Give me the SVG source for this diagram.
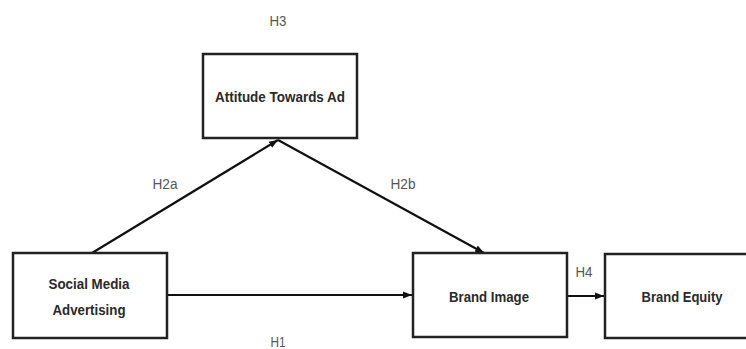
<svg xmlns="http://www.w3.org/2000/svg" width="746" height="349" viewBox="0 0 746 349">
<style>
.box{fill:#fff;stroke:#222;stroke-width:2.5}
.nt{font-family:"Liberation Sans",Arial,sans-serif;font-weight:bold;font-size:15px;fill:#2a2a2a;text-anchor:middle}
.lb{font-family:"Liberation Sans",Arial,sans-serif;font-size:14px;fill:#555;text-anchor:middle}
.ln{stroke:#111;stroke-width:2.2;fill:none;marker-end:url(#ah)}
</style>
<defs>
<marker id="ah" markerUnits="userSpaceOnUse" markerWidth="10" markerHeight="8" refX="9" refY="4" orient="auto">
<path d="M0,0.5 L9,4 L0,7.5 Z" fill="#111"/>
</marker>
</defs>
<g id="connectors">
<line class="ln" x1="167" y1="295" x2="412" y2="295"/>
<line class="ln" x1="567" y1="296" x2="604" y2="296"/>
<line class="ln" x1="92" y1="253" x2="278" y2="140"/>
<line class="ln" x1="278" y1="140" x2="484" y2="253"/>
</g>
<g id="labels">
<text class="lb" x="278" y="26" textLength="17" lengthAdjust="spacingAndGlyphs">H3</text>
<text class="lb" x="165" y="189" textLength="25" lengthAdjust="spacingAndGlyphs">H2a</text>
<text class="lb" x="403" y="189" textLength="25" lengthAdjust="spacingAndGlyphs">H2b</text>
<text class="lb" x="278" y="347" textLength="15" lengthAdjust="spacingAndGlyphs">H1</text>
<text class="lb" x="584" y="277" textLength="17" lengthAdjust="spacingAndGlyphs">H4</text>
</g>
<g id="attitude">
<rect class="box" x="203" y="54" width="154" height="84"/>
<text class="nt" x="280" y="102" textLength="130" lengthAdjust="spacingAndGlyphs">Attitude Towards Ad</text>
</g>
<g id="social">
<rect class="box" x="13" y="253" width="154" height="85"/>
<text class="nt" x="89" y="289" textLength="81" lengthAdjust="spacingAndGlyphs">Social Media</text>
<text class="nt" x="89" y="315" textLength="73" lengthAdjust="spacingAndGlyphs">Advertising</text>
</g>
<g id="brandimage">
<rect class="box" x="413" y="253" width="154" height="84"/>
<text class="nt" x="489" y="302" textLength="80" lengthAdjust="spacingAndGlyphs">Brand Image</text>
</g>
<g id="brandequity">
<rect class="box" x="605" y="254" width="160" height="84"/>
<text class="nt" x="682" y="302" textLength="81" lengthAdjust="spacingAndGlyphs">Brand Equity</text>
</g>
</svg>
